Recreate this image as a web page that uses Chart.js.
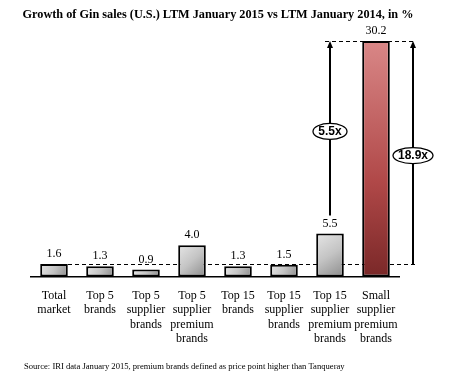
<!DOCTYPE html>
<html>
<head>
<meta charset="utf-8">
<script src="https://cdn.jsdelivr.net/npm/chart.js@4.4.1/dist/chart.umd.min.js"></script>
<style>
  html, body { margin: 0; padding: 0; background: #ffffff; }
  #wrap { width: 457px; height: 388px; }
</style>
</head>
<body>
<div id="wrap"><canvas id="myChart" width="457" height="388"></canvas></div>
<script>
var titleText = 'Growth of Gin sales (U.S.) LTM January 2015 vs LTM January 2014, in %';
var sourceText = 'Source: IRI data January 2015, premium brands defined as price point higher than Tanqueray';
var categories = [
    ['Total', 'market'],
    ['Top 5', 'brands'],
    ['Top 5', 'supplier', 'brands'],
    ['Top 5', 'supplier', 'premium', 'brands'],
    ['Top 15', 'brands'],
    ['Top 15', 'supplier', 'brands'],
    ['Top 15', 'supplier', 'premium', 'brands'],
    ['Small', 'supplier', 'premium', 'brands']
];
var growth = [1.6, 1.3, 0.9, 4.0, 1.3, 1.5, 5.5, 30.2];
var multipliers = ['5.5x', '18.9x'];

var serif = '"Liberation Serif", "Times New Roman", serif';

function barFill(context) {
    var chart = context.chart;
    if (!chart.chartArea) return '#cccccc';
    var c = chart.ctx;
    var i = context.dataIndex;
    var x = chart.scales.x.getPixelForValue(i);
    var top = chart.scales.y.getPixelForValue(growth[i]);
    var bottom = chart.scales.y.getPixelForValue(0);
    var g;
    if (i === growth.length - 1) {
        g = c.createLinearGradient(0, top, 0, bottom);
        g.addColorStop(0, '#d98787');
        g.addColorStop(0.6, '#b04848');
        g.addColorStop(1, '#7a2828');
    } else {
        g = c.createLinearGradient(x - 14, top, x + 14, bottom);
        g.addColorStop(0, '#e6e6e6');
        g.addColorStop(0.5, '#c4c4c4');
        g.addColorStop(1, '#8c8c8c');
    }
    return g;
}

function arrowUp(c, x, y1, y2) {
    c.beginPath();
    c.moveTo(x, y1);
    c.lineTo(x, y2 + 4);
    c.stroke();
    c.beginPath();
    c.moveTo(x, y2);
    c.lineTo(x - 3, y2 + 7);
    c.lineTo(x + 3, y2 + 7);
    c.closePath();
    c.fill();
}

function badge(c, x, y, text, w) {
    c.save();
    c.beginPath();
    c.ellipse(x, y, w / 2, 8, 0, 0, Math.PI * 2);
    c.fillStyle = '#ffffff';
    c.fill();
    c.lineWidth = 1.3;
    c.strokeStyle = '#000000';
    c.stroke();
    c.fillStyle = '#000000';
    c.font = 'bold 12px "Liberation Sans", Arial, sans-serif';
    c.textAlign = 'center';
    c.textBaseline = 'middle';
    c.fillText(text, x, y + 0.5);
    c.restore();
}

var extras = {
    id: 'extras',
    beforeDatasetsDraw: function (chart) {
        var c = chart.ctx, xs = chart.scales.x, ys = chart.scales.y;
        var last = growth.length - 1;
        var rightX = chart.chartArea.right + 14;
        c.save();
        c.strokeStyle = '#000000';
        c.lineWidth = 1;
        c.setLineDash([4, 3]);
        var yBase = Math.round(ys.getPixelForValue(growth[0])) + 0.5;
        c.beginPath();
        c.moveTo(xs.getPixelForValue(0) + 14, yBase);
        c.lineTo(rightX + 3, yBase);
        c.stroke();
        var yTop = Math.round(ys.getPixelForValue(growth[last])) + 0.5;
        c.beginPath();
        c.moveTo(xs.getPixelForValue(last - 1) - 5, yTop);
        c.lineTo(rightX + 3, yTop);
        c.stroke();
        c.restore();
    },
    afterDatasetsDraw: function (chart) {
        var c = chart.ctx, xs = chart.scales.x, ys = chart.scales.y;
        var last = growth.length - 1;
        var rightX = chart.chartArea.right + 14;
        c.save();
        // value labels
        c.fillStyle = '#000000';
        c.font = '12px ' + serif;
        c.textAlign = 'center';
        c.textBaseline = 'middle';
        growth.forEach(function (v, i) {
            c.fillText(v.toFixed(1), xs.getPixelForValue(i), ys.getPixelForValue(v) - 10);
        });
        // arrows
        c.strokeStyle = '#000000';
        c.lineWidth = 2;
        var yTop = ys.getPixelForValue(growth[last]);
        var x7 = xs.getPixelForValue(last - 1);
        arrowUp(c, x7, ys.getPixelForValue(growth[last - 1]) - 18, yTop);
        arrowUp(c, rightX, ys.getPixelForValue(growth[0]), yTop);
        badge(c, x7, ys.getPixelForValue(18.6), multipliers[0], 34);
        badge(c, rightX, ys.getPixelForValue(15.5), multipliers[1], 40);
        // title and source
        c.font = 'bold 12.25px ' + serif;
        c.fillText(titleText, 218, 15);
        c.font = '8.6px ' + serif;
        c.textAlign = 'left';
        c.fillText(sourceText, 24, 367);
        c.restore();
    }
};

var ctx = document.getElementById('myChart').getContext('2d');
var myChart = new Chart(ctx, {
    type: 'bar',
    data: {
        labels: categories,
        datasets: [{
            label: 'Growth',
            data: growth,
            backgroundColor: barFill,
            borderColor: '#000000',
            borderWidth: 2,
            borderSkipped: false,
            barPercentage: 0.6,
            categoryPercentage: 1.0
        }]
    },
    options: {
        responsive: false,
        animation: false,
        layout: {
            padding: { top: 41, left: 31, right: 58, bottom: 30 }
        },
        plugins: {
            legend: { display: false },
            tooltip: { enabled: false }
        },
        scales: {
            x: {
                grid: { display: false, drawTicks: false },
                border: { display: true, color: '#000000', width: 1.5 },
                ticks: {
                    color: '#000000',
                    autoSkip: false,
                    maxRotation: 0,
                    padding: 12,
                    font: { family: serif, size: 12, lineHeight: 1.2 }
                }
            },
            y: {
                display: false,
                min: 0,
                max: 30.2
            }
        }
    },
    plugins: [extras]
});
</script>
</body>
</html>
